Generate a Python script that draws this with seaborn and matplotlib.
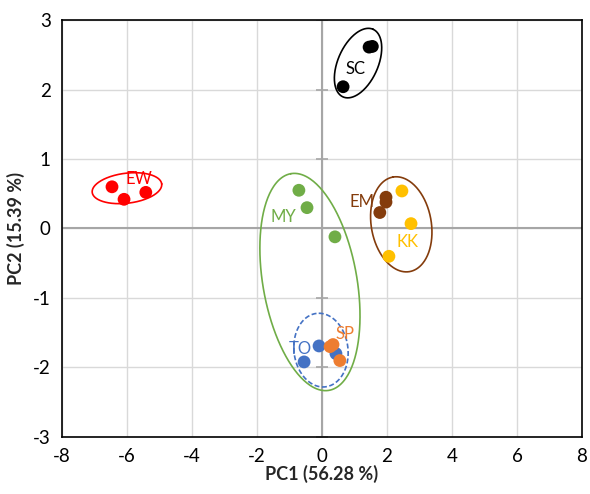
import numpy as np
import pandas as pd
import seaborn as sns
import matplotlib.pyplot as plt

# PCA scores
groups = ["SC", "SC", "SC", "EW", "EW", "EW", "MY", "MY", "MY",
          "EM", "EM", "EM", "KK", "KK", "KK", "TO", "TO", "TO", "SP", "SP", "SP"]
pc1 = [1.45, 1.55, 0.65, -6.46, -6.09, -5.42, -0.71, -0.46, 0.40,
       1.97, 1.97, 1.78, 2.46, 2.74, 2.06, -0.09, -0.55, 0.43, 0.25, 0.34, 0.55]
pc2 = [2.61, 2.62, 2.04, 0.60, 0.42, 0.52, 0.55, 0.30, -0.12,
       0.45, 0.38, 0.23, 0.54, 0.07, -0.40, -1.69, -1.92, -1.80, -1.70, -1.67, -1.90]

palette = {"SC": "#000000", "EW": "#FF0000", "MY": "#70AD47", "EM": "#843C0C",
           "KK": "#FFC000", "TO": "#4472C4", "SP": "#ED7D31"}

# group labels: text, x, y
label_names = ["SC", "EW", "MY", "EM", "KK", "TO", "SP"]
label_x = [1.03, -5.62, -1.18, 1.23, 2.62, -0.67, 0.70]
label_y = [2.30, 0.71, 0.17, 0.38, -0.19, -1.73, -1.52]

# confidence ellipses: centre (data), semi axes (px), angle (deg), colour, style
ell_cx = [1.11, -6.0, -0.37, 2.44, -0.03]
ell_cy = [2.38, 0.58, -0.77, 0.06, -1.75]
ell_ra = [37, 35, 110, 48, 37]
ell_rb = [20, 15, 47, 30, 27]
ell_ang = [66, 7, 100, 100, 97]
ell_col = ["#000000", "#FF0000", "#70AD47", "#843C0C", "#4472C4"]
ell_ls = ["-", "-", "-", "-", "--"]

df = pd.DataFrame({"group": groups, "PC1": pc1, "PC2": pc2})

sns.set_style("white")
plt.rcParams["font.family"] = ["Lato", "DejaVu Sans"]
plt.rcParams["axes.unicode_minus"] = False

fig = plt.figure(figsize=(5.9, 4.94), dpi=100)
ax = fig.add_axes([0.105, 0.1154, 0.8814, 0.8441])

ax.set_xlim(-8, 8)
ax.set_ylim(-3, 3)
ax.set_xticks(range(-8, 9, 2))
ax.set_yticks(range(-3, 4))
ax.grid(True, color="#d9d9d9", linewidth=1)
ax.set_axisbelow(True)

ax.axhline(0, color="#a6a6a6", linewidth=1.5, zorder=1)
ax.axvline(0, color="#a6a6a6", linewidth=1.5, zorder=1)
# tick marks on the vertical zero axis
ax.plot([0] * 6, [-3, -2, -1, 1, 2, 3], ls="none", marker="_", ms=8, mew=1.2, color="#a6a6a6", zorder=1)

sns.scatterplot(data=df, x="PC1", y="PC2", hue="group", palette=palette,
                s=85, edgecolor="none", legend=False, ax=ax, zorder=3)

# pixels per data unit
bbox = ax.get_position()
sx = bbox.width * fig.get_figwidth() * fig.dpi / 16
sy = bbox.height * fig.get_figheight() * fig.dpi / 6
t = np.linspace(0, 2 * np.pi, 300)
for cx, cy, ra, rb, ang, col, ls in zip(ell_cx, ell_cy, ell_ra, ell_rb, ell_ang, ell_col, ell_ls):
    th = np.deg2rad(ang)
    u, v = ra * np.cos(t), rb * np.sin(t)
    px = u * np.cos(th) - v * np.sin(th)
    py = u * np.sin(th) + v * np.cos(th)
    ax.plot(cx + px / sx, cy + py / sy, color=col, ls=ls, lw=1.2,
            dashes=(3, 1.5) if ls == "--" else (None, None), zorder=2)

for name, lx, ly in zip(label_names, label_x, label_y):
    ax.text(lx, ly, name, color=palette[name], fontsize=12, ha="center", va="center", zorder=4)

for s in ax.spines.values():
    s.set_color("#000000")
    s.set_linewidth(1.2)
ax.tick_params(axis="both", length=0, labelsize=13.5, pad=8, colors="#000000")
ax.set_xlabel("PC1 (56.28 %)", fontsize=13, fontweight="bold", labelpad=0)
ax.set_ylabel("PC2 (15.39 %)", fontsize=13, fontweight="bold", labelpad=6)

fig.savefig("out.png", dpi=100)
